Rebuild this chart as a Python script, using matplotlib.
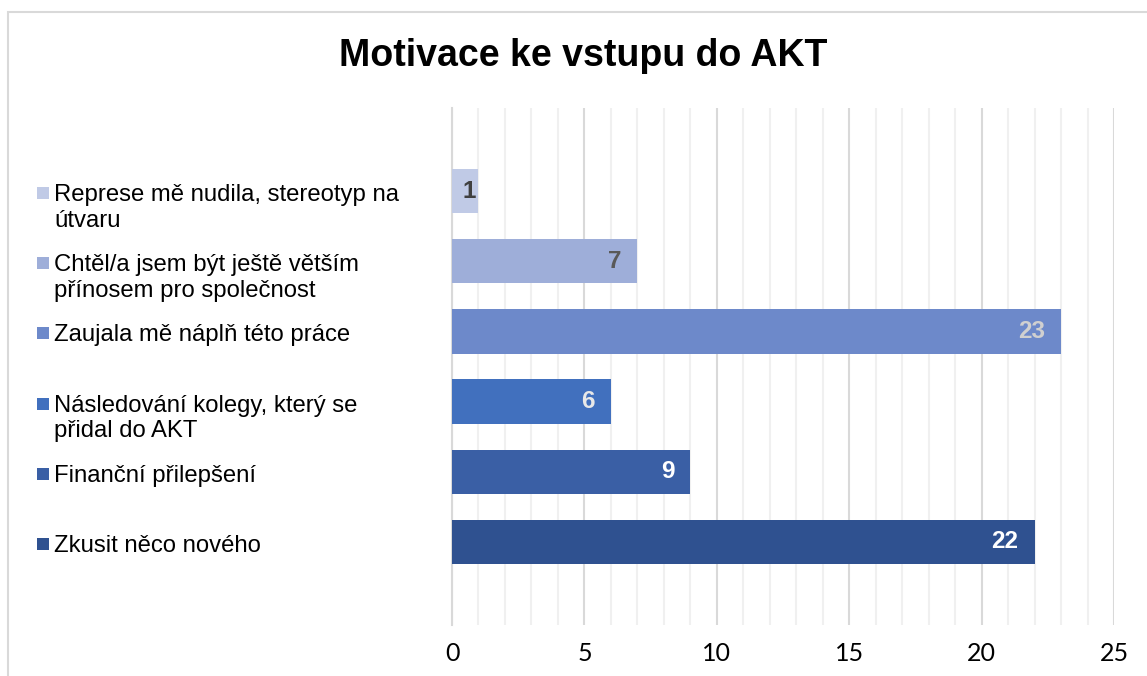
import matplotlib
matplotlib.use("Agg")
import matplotlib.pyplot as plt
import matplotlib.transforms as mtransforms
from matplotlib.patches import Rectangle
from matplotlib.ticker import MultipleLocator

# data (top to bottom as shown)
categories = [
    "Represe mě nudila, stereotyp na\nútvaru",
    "Chtěl/a jsem být ještě větším\npřínosem pro společnost",
    "Zaujala mě náplň této práce",
    "Následování kolegy, který se\npřidal do AKT",
    "Finanční přilepšení",
    "Zkusit něco nového",
]
values = [1, 7, 23, 6, 9, 22]
bar_colors = ["#C0CAE6", "#9EAED9", "#6D89CA", "#4170BE", "#3A5FA5", "#2F5190"]
label_colors = ["#404040", "#595959", "#D0D0D0", "#E8E8E8", "#FFFFFF", "#FFFFFF"]

plt.rcParams['font.family'] = ['Liberation Sans', 'DejaVu Sans']

fig = plt.figure(figsize=(11.47, 6.76), dpi=100)
ax = fig.add_axes([452 / 1147, 51 / 676, 662 / 1147, 517 / 676])

pos = list(range(len(values)))
ax.barh(pos, values, height=0.63, color=bar_colors, zorder=3)

ax.set_xlim(0, 25)
ax.set_ylim(len(values) - 1 + 1.19, -1.19)
ax.xaxis.set_major_locator(MultipleLocator(5))
ax.xaxis.set_minor_locator(MultipleLocator(1))
ax.grid(axis='x', which='major', color='#D9D9D9', linewidth=1.5, zorder=0)
ax.grid(axis='x', which='minor', color='#F0F0F0', linewidth=1.5, zorder=0)
ax.set_yticks([])
for s in ['top', 'right', 'bottom']:
    ax.spines[s].set_visible(False)
ax.spines['left'].set_color('#D9D9D9')
ax.spines['left'].set_linewidth(1.5)
ax.tick_params(axis='x', which='both', length=0, pad=12)
for lab in ax.get_xticklabels():
    lab.set_fontfamily('Lato')
    lab.set_fontsize(18)
    lab.set_color('#000000')

# value labels inside bar ends (short bars: centred)
for p, v, c in zip(pos, values, label_colors):
    if v < 2:
        ax.annotate(str(v), (v / 2, p), xytext=(3, 0), textcoords='offset points',
                    ha='center', va='center', fontsize=17.5, fontweight='bold', color=c, zorder=4)
    else:
        ax.annotate(str(v), (v, p), xytext=(-11.5, 0), textcoords='offset points',
                    ha='right', va='center', fontsize=17.5, fontweight='bold', color=c, zorder=4)

# legend-like category labels on the left
trans = mtransforms.blended_transform_factory(fig.transFigure, ax.transData)
txt_off = mtransforms.ScaledTranslation(0, 7 / 100, fig.dpi_scale_trans)
mk_off = mtransforms.ScaledTranslation(0, -2 / 100, fig.dpi_scale_trans)
for p, cat, c in zip(pos, categories, bar_colors):
    fig.text(54 / 1147, p, cat, transform=trans + txt_off, ha='left', va='top',
             fontsize=17.2, color='#000000', linespacing=1.2)
    ax.scatter([42.5 / 1147], [p], transform=trans + mk_off, marker='s', s=68,
               color=c, linewidths=0, clip_on=False)

fig.text(583 / 1147, 1 - 56 / 676, "Motivace ke vstupu do AKT", ha='center', va='center',
         fontsize=27, fontweight='bold')

# chart frame
fig.patches.append(Rectangle((8 / 1147, -0.01), 1.2, 1 - 12 / 676 + 0.01, transform=fig.transFigure,
                             facecolor='none', edgecolor='#D9D9D9', linewidth=1.5))

fig.savefig("out.png", dpi=100)
